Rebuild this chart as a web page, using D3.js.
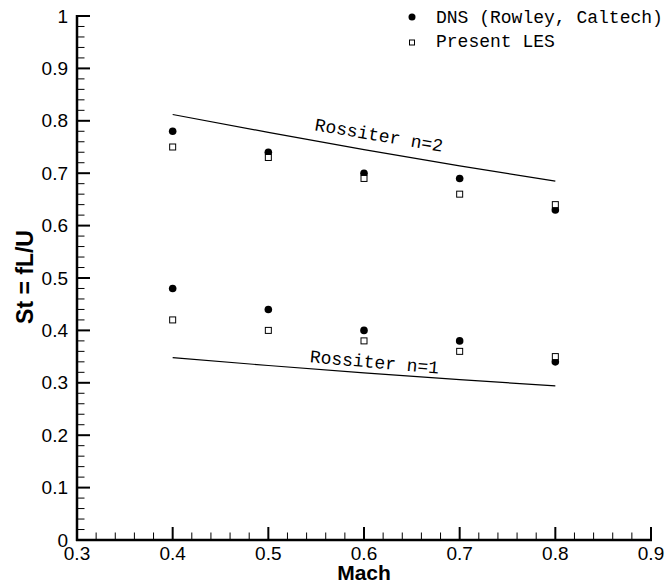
<!DOCTYPE html>
<html>
<head>
<meta charset="utf-8">
<script src="https://cdn.jsdelivr.net/npm/d3@7"></script>
<style>
  body { margin: 0; background: #fff; }
  svg { display: block; }
</style>
</head>
<body>
<svg id="chart" width="666" height="585"></svg>
<script>
  // Mach numbers
  var mach = [0.4, 0.5, 0.6, 0.7, 0.8];

  // DNS (Rowley, Caltech), modes 1 and 2
  var dnsMode1 = [0.48, 0.44, 0.40, 0.38, 0.34];
  var dnsMode2 = [0.78, 0.74, 0.70, 0.69, 0.63];

  // Present LES, modes 1 and 2
  var lesMode1 = [0.42, 0.40, 0.38, 0.36, 0.35];
  var lesMode2 = [0.75, 0.73, 0.69, 0.66, 0.64];

  // Rossiter curves
  var rossiter1 = [0.348, 0.333, 0.319, 0.306, 0.294];
  var rossiter2 = [0.812, 0.778, 0.745, 0.714, 0.685];

  var xTicks = [0.3, 0.4, 0.5, 0.6, 0.7, 0.8, 0.9];
  var yTicks = [0, 0.1, 0.2, 0.3, 0.4, 0.5, 0.6, 0.7, 0.8, 0.9, 1];

  var svg = d3.select("#chart");

  var x = d3.scaleLinear().domain([0.3, 0.9]).range([77, 651]);
  var y = d3.scaleLinear().domain([0, 1]).range([540, 16]);

  var tickFont = "'Liberation Sans', Arial, sans-serif";
  var monoFont = "'Courier New', 'Liberation Mono', monospace";

  // minor ticks every 0.02
  var xMinor = d3.range(0, 31).map(function (i) { return 0.3 + i * 0.02; })
    .filter(function (v) { return Math.abs(Math.round(v * 10) - v * 10) > 1e-6; });
  var yMinor = d3.range(0, 51).map(function (i) { return i * 0.02; })
    .filter(function (v) { return Math.abs(Math.round(v * 10) - v * 10) > 1e-6; });

  // bottom axis
  var gx = svg.append("g").attr("transform", "translate(0," + y(0) + ")");
  gx.selectAll("line.minor").data(xMinor).enter().append("line")
    .attr("class", "minor")
    .attr("x1", function (d) { return x(d); })
    .attr("x2", function (d) { return x(d); })
    .attr("y1", 0).attr("y2", -7.5)
    .style("stroke", "black").style("stroke-width", "1px");
  gx.selectAll("line.major").data(xTicks).enter().append("line")
    .attr("class", "major")
    .attr("x1", function (d) { return x(d); })
    .attr("x2", function (d) { return x(d); })
    .attr("y1", 0).attr("y2", -13)
    .style("stroke", "black").style("stroke-width", "2px");
  gx.selectAll("text").data(xTicks).enter().append("text")
    .attr("x", function (d) { return x(d); })
    .attr("y", 20)
    .attr("text-anchor", "middle")
    .style("font-family", tickFont)
    .style("font-size", "19px")
    .text(function (d) { return d3.format(".1f")(d); });
  gx.append("line")
    .attr("x1", x(0.3) - 1).attr("x2", x(0.9) + 1)
    .attr("y1", 0).attr("y2", 0)
    .style("stroke", "black").style("stroke-width", "2.5px");

  // left axis
  var gy = svg.append("g").attr("transform", "translate(" + x(0.3) + ",0)");
  gy.selectAll("line.minor").data(yMinor).enter().append("line")
    .attr("class", "minor")
    .attr("y1", function (d) { return y(d); })
    .attr("y2", function (d) { return y(d); })
    .attr("x1", 0).attr("x2", 7.5)
    .style("stroke", "black").style("stroke-width", "1px");
  gy.selectAll("line.major").data(yTicks).enter().append("line")
    .attr("class", "major")
    .attr("y1", function (d) { return y(d); })
    .attr("y2", function (d) { return y(d); })
    .attr("x1", 0).attr("x2", 13)
    .style("stroke", "black").style("stroke-width", "2px");
  gy.selectAll("text").data(yTicks).enter().append("text")
    .attr("x", -9)
    .attr("y", function (d) { return y(d) + 6.5; })
    .attr("text-anchor", "end")
    .style("font-family", tickFont)
    .style("font-size", "19px")
    .text(function (d) { return d === 0 || d === 1 ? String(d) : d3.format(".1f")(d); });
  gy.append("line")
    .attr("x1", 0).attr("x2", 0)
    .attr("y1", y(1) - 1).attr("y2", y(0) + 1)
    .style("stroke", "black").style("stroke-width", "2.5px");

  // axis titles
  svg.append("text")
    .attr("x", 364).attr("y", 580)
    .attr("text-anchor", "middle")
    .style("font-family", tickFont)
    .style("font-weight", "bold")
    .style("font-size", "21px")
    .text("Mach");
  svg.append("text")
    .attr("transform", "translate(33,277) rotate(-90)")
    .attr("text-anchor", "middle")
    .style("font-family", tickFont)
    .style("font-weight", "bold")
    .style("font-size", "23px")
    .text("St = fL/U");

  // Rossiter lines
  var line = d3.line()
    .x(function (d) { return x(d[0]); })
    .y(function (d) { return y(d[1]); });
  [rossiter1, rossiter2].forEach(function (vals) {
    svg.append("path")
      .datum(d3.zip(mach, vals))
      .attr("d", line)
      .style("fill", "none")
      .style("stroke", "black")
      .style("stroke-width", "1.2px");
  });

  svg.append("text")
    .attr("transform", "translate(378,141) rotate(9.6)")
    .attr("text-anchor", "middle")
    .style("font-family", monoFont)
    .style("font-size", "18px")
    .text("Rossiter n=2");
  svg.append("text")
    .attr("transform", "translate(374,368) rotate(5)")
    .attr("text-anchor", "middle")
    .style("font-family", monoFont)
    .style("font-size", "18px")
    .text("Rossiter n=1");

  // DNS points
  var dnsPts = d3.zip(mach, dnsMode1).concat(d3.zip(mach, dnsMode2));
  svg.selectAll("circle.dns").data(dnsPts).enter().append("circle")
    .attr("class", "dns")
    .attr("cx", function (d) { return x(d[0]); })
    .attr("cy", function (d) { return y(d[1]); })
    .attr("r", 3.8)
    .style("fill", "black");

  // LES points
  var lesPts = d3.zip(mach, lesMode1).concat(d3.zip(mach, lesMode2));
  svg.selectAll("rect.les").data(lesPts).enter().append("rect")
    .attr("class", "les")
    .attr("x", function (d) { return x(d[0]) - 3; })
    .attr("y", function (d) { return y(d[1]) - 3; })
    .attr("width", 6).attr("height", 6)
    .style("fill", "white")
    .style("stroke", "black")
    .style("stroke-width", "1px");

  // legend
  var legend = svg.append("g").attr("transform", "translate(412,0)");
  legend.append("circle").attr("cx", 0).attr("cy", 17).attr("r", 3.5).style("fill", "black");
  legend.append("rect").attr("x", -2.5).attr("y", 40).attr("width", 5).attr("height", 5)
    .style("fill", "white").style("stroke", "black").style("stroke-width", "1px");
  legend.append("text").attr("x", 24).attr("y", 23)
    .style("font-family", monoFont).style("font-size", "18px")
    .text("DNS (Rowley, Caltech)");
  legend.append("text").attr("x", 24).attr("y", 47)
    .style("font-family", monoFont).style("font-size", "18px")
    .text("Present LES");
</script>
</body>
</html>
